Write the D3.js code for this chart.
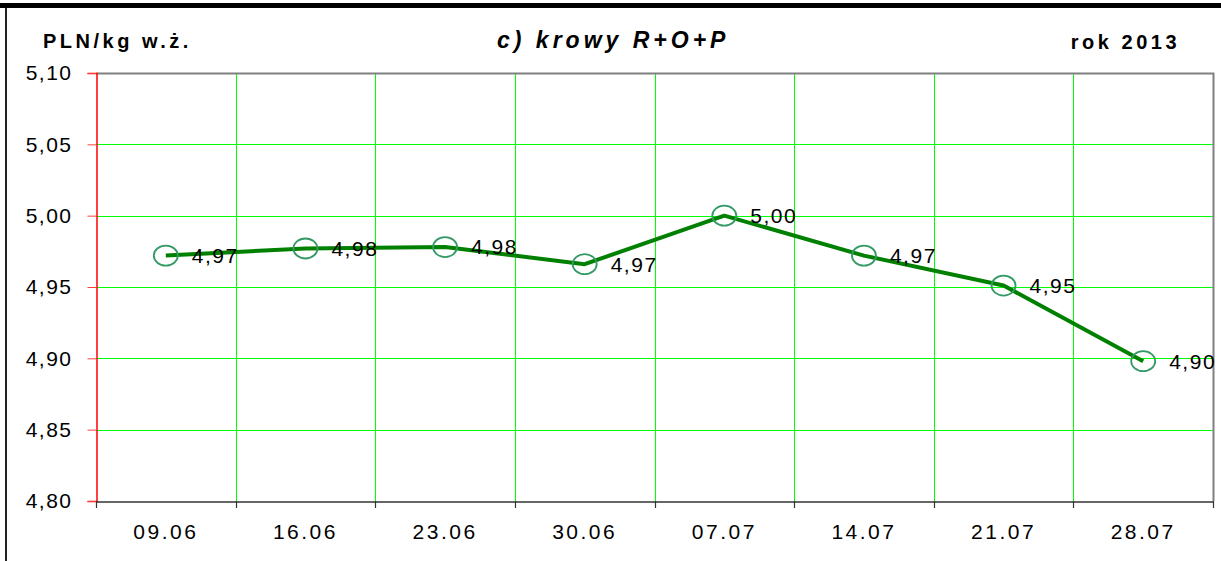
<!DOCTYPE html>
<html>
<head>
<meta charset="UTF-8">
<title>krowy R+O+P</title>
<script src="https://cdn.jsdelivr.net/npm/d3@7"></script>
<style>
  body { margin: 0; background: #fff; }
  text { font-family: "Liberation Sans", Arial, sans-serif; fill: #000; }
</style>
</head>
<body>
<svg width="1221" height="561"></svg>
<script>
// dane
var weeks = ["09.06", "16.06", "23.06", "30.06", "07.07", "14.07", "21.07", "28.07"];
var prices = [4.972, 4.977, 4.978, 4.966, 5.000, 4.972, 4.951, 4.898];
var yTicks = [4.80, 4.85, 4.90, 4.95, 5.00, 5.05, 5.10];

var svg = d3.select("svg");
var plot = {left: 96, right: 1213, top: 73, bottom: 501};

var x = d3.scaleBand().domain(weeks).range([plot.left, plot.right]).paddingInner(0).paddingOuter(0);
var y = d3.scaleLinear().domain([4.80, 5.10]).range([plot.bottom, plot.top]);
var fmt = function(v){ return d3.format(".2f")(v).replace(".", ","); };

// ramka strony
svg.append("rect").attr("x", 0).attr("y", 3).attr("width", 1221).attr("height", 5).attr("fill", "#000");
svg.append("rect").attr("x", 5).attr("y", 8).attr("width", 2).attr("height", 553).attr("fill", "#222");

// siatka
svg.append("g").selectAll("line").data(yTicks.slice(1, -1)).enter().append("line")
  .attr("x1", plot.left).attr("x2", plot.right)
  .attr("y1", function(d){ return Math.round(y(d)) + 0.5; })
  .attr("y2", function(d){ return Math.round(y(d)) + 0.5; })
  .attr("stroke", "#00ff00").attr("stroke-width", 1).attr("shape-rendering", "crispEdges");
svg.append("g").selectAll("line").data(weeks.slice(1)).enter().append("line")
  .attr("x1", function(d){ return Math.round(x(d)) + 0.5; })
  .attr("x2", function(d){ return Math.round(x(d)) + 0.5; })
  .attr("y1", plot.top).attr("y2", plot.bottom)
  .attr("stroke", "#00ff00").attr("stroke-width", 1.2).attr("shape-rendering", "crispEdges");

// ramka wykresu (góra, prawa)
svg.append("path")
  .attr("d", "M" + plot.left + "," + (plot.top + 0.5) + "H" + (plot.right + 0.5) + "V" + plot.bottom)
  .attr("fill", "none").attr("stroke", "#808080").attr("stroke-width", 2);

// oś Y
var yAxis = svg.append("g").attr("transform", "translate(" + (plot.left + 0.5) + ",0)")
  .call(d3.axisLeft(y).tickValues(yTicks).tickFormat(fmt).tickSize(9).tickPadding(15));
yAxis.select(".domain").attr("stroke", "#ff0000").attr("stroke-width", 1.5);
yAxis.selectAll(".tick line").attr("stroke", "#ff4040");
yAxis.selectAll("text").attr("font-size", 21).attr("letter-spacing", 1.5)
  .attr("font-family", "Liberation Sans, Arial, sans-serif").attr("fill", "#000");

// oś X
var xAxis = svg.append("g").attr("transform", "translate(0," + (plot.bottom + 0.5) + ")")
  .call(d3.axisBottom(x).tickSize(0).tickPadding(23));
xAxis.select(".domain").attr("stroke", "#333").attr("stroke-width", 1.5);
xAxis.selectAll("text").attr("font-size", 21).attr("letter-spacing", 2.5)
  .attr("font-family", "Liberation Sans, Arial, sans-serif").attr("fill", "#000");
var bounds = weeks.map(function(d){ return x(d); }).concat([x(weeks[weeks.length - 1]) + x.bandwidth()]);
svg.append("g").selectAll("line").data(bounds).enter().append("line")
  .attr("x1", function(d){ return Math.round(d) + 0.5; })
  .attr("x2", function(d){ return Math.round(d) + 0.5; })
  .attr("y1", plot.bottom).attr("y2", plot.bottom + 7)
  .attr("stroke", "#333").attr("stroke-width", 1.2);

// linia
var line = d3.line()
  .x(function(d, i){ return x(weeks[i]) + x.bandwidth() / 2; })
  .y(function(d){ return y(d); });
svg.append("path").datum(prices).attr("d", line)
  .attr("fill", "none").attr("stroke", "#008000").attr("stroke-width", 4)
  .attr("stroke-linejoin", "round");

// znaczniki
svg.append("g").selectAll("ellipse").data(prices).enter().append("ellipse")
  .attr("cx", function(d, i){ return x(weeks[i]) + x.bandwidth() / 2; })
  .attr("cy", function(d){ return y(d); })
  .attr("rx", 12).attr("ry", 10)
  .attr("fill", "none").attr("stroke", "#339966").attr("stroke-width", 1.8);

// etykiety
svg.append("g").selectAll("text").data(prices).enter().append("text")
  .attr("x", function(d, i){ return x(weeks[i]) + x.bandwidth() / 2 + 26; })
  .attr("y", function(d){ return y(d); })
  .attr("dy", "0.35em")
  .attr("font-size", 21).attr("letter-spacing", 1.5)
  .text(fmt);

// tytuły
svg.append("text").attr("x", 43).attr("y", 48)
  .attr("font-size", 20).attr("font-weight", "bold").attr("letter-spacing", 3.5)
  .text("PLN/kg w.ż.");
svg.append("text").attr("x", 497).attr("y", 48)
  .attr("font-size", 23).attr("font-weight", "bold").attr("font-style", "italic").attr("letter-spacing", 4)
  .text("c) krowy R+O+P");
svg.append("text").attr("x", 1180).attr("y", 49).attr("text-anchor", "end")
  .attr("font-size", 20).attr("font-weight", "bold").attr("letter-spacing", 3.5)
  .text("rok 2013");
</script>
</body>
</html>
